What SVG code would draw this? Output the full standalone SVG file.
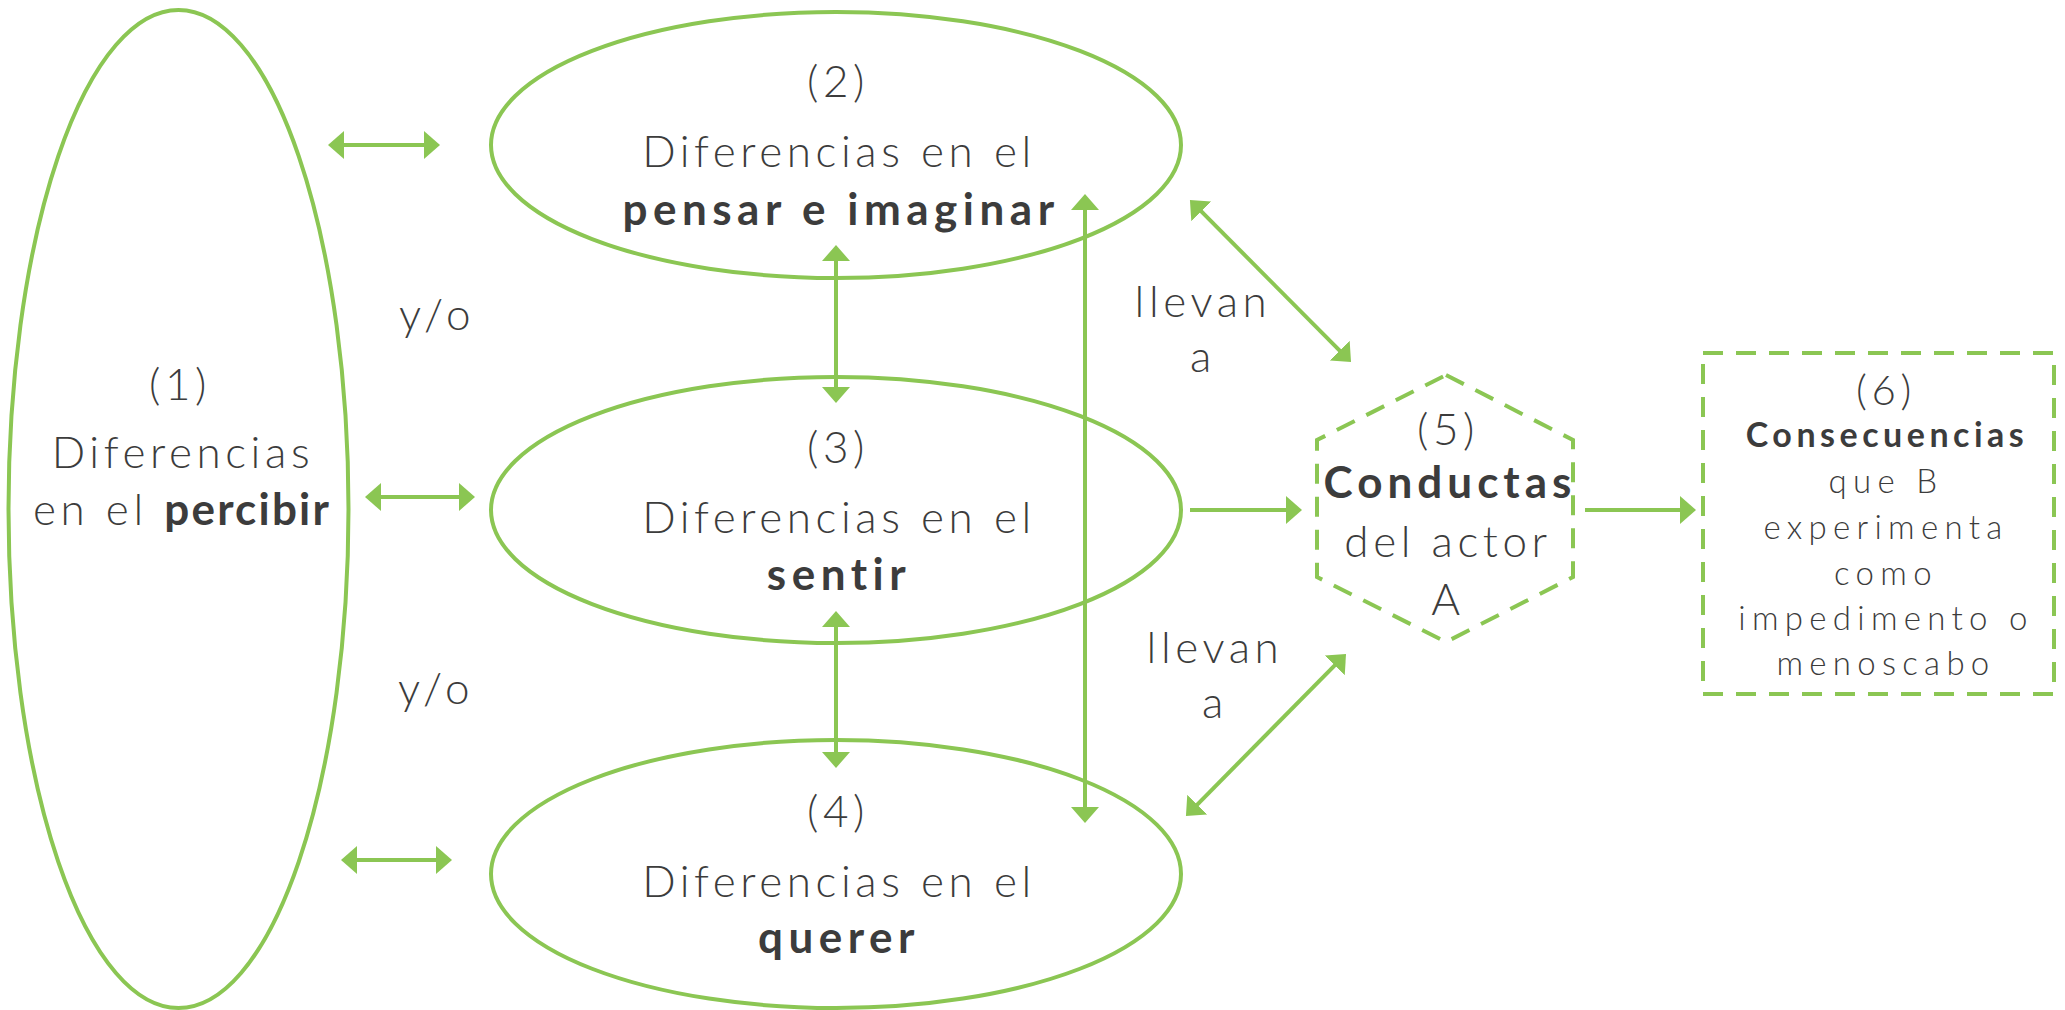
<svg xmlns="http://www.w3.org/2000/svg" width="2065" height="1010" viewBox="0 0 2065 1010">
<defs>
<style>
.shape{fill:none;stroke:#8bc653;stroke-width:4}
.dash{fill:none;stroke:#8bc653;stroke-width:4;stroke-dasharray:20 13}
.conn{fill:none;stroke:#8bc653;stroke-width:4}
.t{font-family:Lato,'Open Sans','Noto Sans',sans-serif;font-weight:300;fill:#3c3c3c;text-anchor:middle;font-size:44px;letter-spacing:4.6px}
.b{font-weight:700;letter-spacing:5.5px}
.s{font-size:33px;letter-spacing:6.3px}
.sb{font-weight:700;font-size:34px;letter-spacing:4.5px}
</style>
<marker id="ah" viewBox="0 0 16 28" refX="8" refY="14" markerWidth="16" markerHeight="28" markerUnits="userSpaceOnUse" orient="auto-start-reverse">
<path d="M0,0 L16,14 L0,28 Z" fill="#8bc653"/>
</marker>
</defs>
<rect width="2065" height="1010" fill="#ffffff"/>
<g id="connectors">
<line class="conn" x1="336" y1="145" x2="432" y2="145" marker-start="url(#ah)" marker-end="url(#ah)"/>
<line class="conn" x1="373" y1="497" x2="467" y2="497" marker-start="url(#ah)" marker-end="url(#ah)"/>
<line class="conn" x1="349" y1="860" x2="444" y2="860" marker-start="url(#ah)" marker-end="url(#ah)"/>
<line class="conn" x1="836" y1="253" x2="836" y2="395" marker-start="url(#ah)" marker-end="url(#ah)"/>
<line class="conn" x1="836" y1="619" x2="836" y2="760" marker-start="url(#ah)" marker-end="url(#ah)"/>
<line class="conn" x1="1085" y1="202" x2="1085" y2="815" marker-start="url(#ah)" marker-end="url(#ah)"/>
<line class="conn" x1="1195.6" y1="205.7" x2="1345.4" y2="356.3" marker-start="url(#ah)" marker-end="url(#ah)"/>
<line class="conn" x1="1340.4" y1="659.7" x2="1191.6" y2="810.3" marker-start="url(#ah)" marker-end="url(#ah)"/>
<line class="conn" x1="1190" y1="510" x2="1294" y2="510" marker-end="url(#ah)"/>
<line class="conn" x1="1585" y1="510" x2="1688" y2="510" marker-end="url(#ah)"/>
</g>
<g id="labels">
<text class="t" x="437" y="330">y/o</text>
<text class="t" x="436" y="704">y/o</text>
<text class="t" x="1203" y="317">llevan</text>
<text class="t" x="1203" y="372">a</text>
<text class="t" x="1215" y="663">llevan</text>
<text class="t" x="1215" y="718">a</text>
</g>
<g id="node1">
<ellipse class="shape" cx="178.5" cy="509" rx="170" ry="499"/>
<text class="t" x="180" y="400">(1)</text>
<text class="t" x="183" y="468">Diferencias</text>
<text class="t" x="182" y="525">en el <tspan class="b" style="letter-spacing:2.2px">percibir</tspan></text>
</g>
<g id="node2">
<ellipse class="shape" cx="836" cy="145" rx="345" ry="133"/>
<text class="t" x="838" y="97">(2)</text>
<text class="t" x="839" y="167">Diferencias en el</text>
<text class="t b" x="841" y="225">pensar e imaginar</text>
</g>
<g id="node3">
<ellipse class="shape" cx="836" cy="510" rx="345" ry="133"/>
<text class="t" x="838" y="463">(3)</text>
<text class="t" x="839" y="533">Diferencias en el</text>
<text class="t b" x="839" y="590">sentir</text>
</g>
<g id="node4">
<ellipse class="shape" cx="836" cy="874" rx="345" ry="134"/>
<text class="t" x="838" y="827">(4)</text>
<text class="t" x="839" y="897">Diferencias en el</text>
<text class="t b" x="839" y="953">querer</text>
</g>
<g id="node5">
<polygon class="dash" points="1446,375 1573,440 1573,577 1446,642 1317,577 1317,440"/>
<text class="t" x="1448" y="445">(5)</text>
<text class="t b" x="1450" y="498" style="letter-spacing:5px">Conductas</text>
<text class="t" x="1448" y="557">del actor</text>
<text class="t" x="1448" y="615">A</text>
</g>
<g id="node6">
<rect class="dash" x="1703" y="353" width="351" height="341"/>
<text class="t" style="font-size:42px" x="1886" y="405">(6)</text>
<text class="t sb" x="1887" y="447">Consecuencias</text>
<text class="t s" x="1886" y="493">que B</text>
<text class="t s" x="1886" y="539">experimenta</text>
<text class="t s" x="1886" y="585">como</text>
<text class="t s" x="1886" y="630">impedimento o</text>
<text class="t s" x="1886" y="675">menoscabo</text>
</g>
</svg>
